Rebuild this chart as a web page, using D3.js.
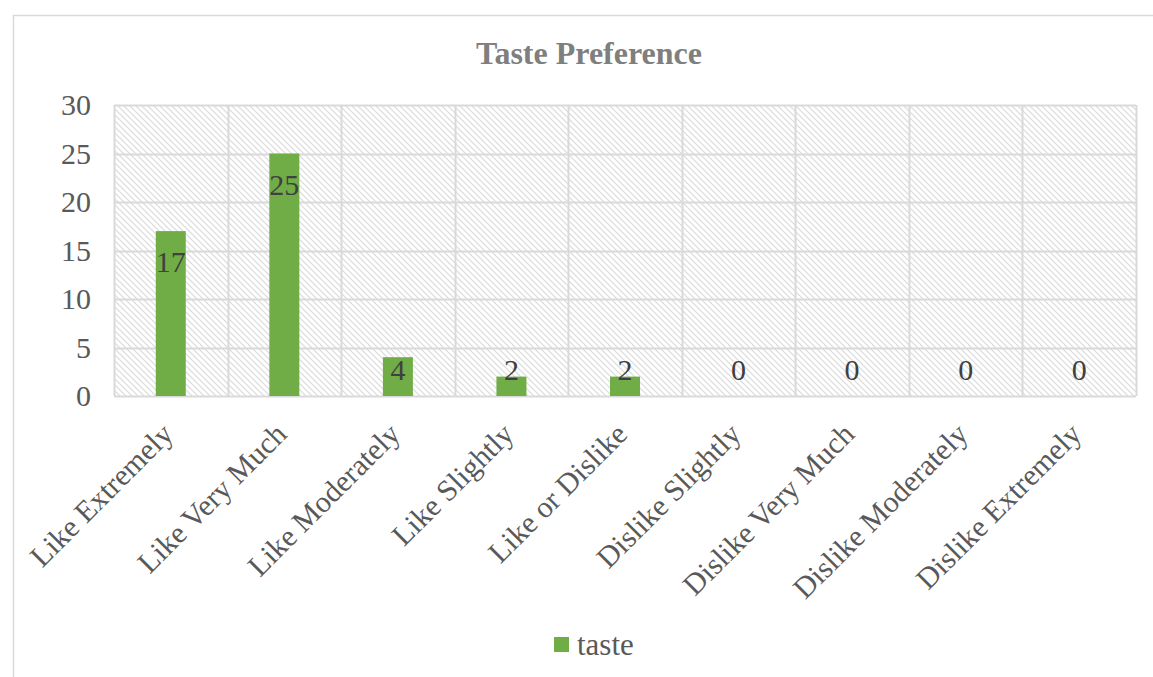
<!DOCTYPE html>
<html>
<head>
<meta charset="utf-8">
<script src="https://cdn.jsdelivr.net/npm/d3@7"></script>
<style>
  body { margin: 0; background: #fff; }
  svg text { font-family: "Liberation Serif", "Times New Roman", serif; }
</style>
</head>
<body>
<div class="board"></div>
<script>
const CATEGORIES = ["Like Extremely", "Like Very Much", "Like Moderately", "Like Slightly",
    "Like or Dislike", "Dislike Slightly", "Dislike Very Much", "Dislike Moderately", "Dislike Extremely"]
const TASTE = [17, 25, 4, 2, 2, 0, 0, 0, 0]
const Y_TICKS = [0, 5, 10, 15, 20, 25, 30]
const SERIES_NAME = "taste"
const TITLE = "Taste Preference"

const W = 1153, H = 677
const plot = { left: 114, right: 1136, top: 105, bottom: 396 }
const GREEN = "#70AD47"

const svg = d3.select(".board")
    .append("svg")
    .attr("width", W)
    .attr("height", H)

// hatch pattern for the plot area
const defs = svg.append("defs")
const pat = defs.append("pattern")
    .attr("id", "hatch")
    .attr("patternUnits", "userSpaceOnUse")
    .attr("width", 6)
    .attr("height", 6)
pat.append("rect").attr("width", 6).attr("height", 6).attr("fill", "#fff")
pat.append("path")
    .attr("d", "M-1,-1 L7,7 M-1,5 L1,7 M5,-1 L7,1")
    .attr("stroke", "#dadada")
    .attr("stroke-width", 1.2)

// chart border (right and bottom run off the picture)
svg.append("path")
    .attr("d", `M13.5,${H} L13.5,15.5 L${W},15.5`)
    .attr("fill", "none")
    .attr("stroke", "#d9d9d9")
    .attr("stroke-width", 1.5)

let x = d3.scaleBand()
    .domain(CATEGORIES)
    .range([plot.left, plot.right])
    .paddingInner(0)
    .paddingOuter(0)

let y = d3.scaleLinear()
    .domain([0, 30])
    .range([plot.bottom, plot.top])

svg.append("rect")
    .attr("x", plot.left)
    .attr("y", plot.top)
    .attr("width", plot.right - plot.left)
    .attr("height", plot.bottom - plot.top)
    .attr("fill", "url(#hatch)")

// horizontal gridlines
svg.selectAll(".hgrid")
    .data(Y_TICKS)
    .enter()
    .append("line")
    .attr("x1", plot.left)
    .attr("x2", plot.right)
    .attr("y1", d => Math.round(y(d)) + 0.5)
    .attr("y2", d => Math.round(y(d)) + 0.5)
    .attr("stroke", "#d9d9d9")
    .attr("stroke-width", 2)

// vertical gridlines at category boundaries
let bounds = CATEGORIES.map(c => x(c)).concat([plot.right])
svg.selectAll(".vgrid")
    .data(bounds)
    .enter()
    .append("line")
    .attr("x1", d => Math.round(d) + 0.5)
    .attr("x2", d => Math.round(d) + 0.5)
    .attr("y1", plot.top)
    .attr("y2", plot.bottom)
    .attr("stroke", "#d9d9d9")
    .attr("stroke-width", 2)

// bars
const BAR_W = 30
svg.selectAll(".bar")
    .data(TASTE)
    .enter()
    .append("rect")
    .attr("x", (d, i) => x(CATEGORIES[i]) + x.bandwidth() / 2 - BAR_W / 2)
    .attr("y", d => y(d))
    .attr("width", BAR_W)
    .attr("height", d => y(0) - y(d))
    .attr("fill", GREEN)

// data labels, inside end, kept above the axis
svg.selectAll(".dlabel")
    .data(TASTE)
    .enter()
    .append("text")
    .attr("x", (d, i) => x(CATEGORIES[i]) + x.bandwidth() / 2)
    .attr("y", d => Math.min(y(d) + 41, 380))
    .attr("text-anchor", "middle")
    .attr("font-size", 30)
    .attr("fill", "#404040")
    .text(d => d)

// y tick labels
svg.selectAll(".ytick")
    .data(Y_TICKS)
    .enter()
    .append("text")
    .attr("x", 91)
    .attr("y", d => y(d) + 10)
    .attr("text-anchor", "end")
    .attr("font-size", 30)
    .attr("fill", "#595959")
    .text(d => d)

// x labels, rotated
svg.selectAll(".xlabel")
    .data(CATEGORIES)
    .enter()
    .append("text")
    .attr("transform", d => `translate(${x(d) + x.bandwidth() / 2 + 4},${plot.bottom + 40}) rotate(-45)`)
    .attr("text-anchor", "end")
    .attr("font-size", 30)
    .attr("fill", "#595959")
    .text(d => d)

// title
svg.append("text")
    .attr("x", 589)
    .attr("y", 64)
    .attr("text-anchor", "middle")
    .attr("font-size", 32)
    .attr("font-weight", "bold")
    .attr("fill", "#7f7f7f")
    .text(TITLE)

// legend
svg.append("rect")
    .attr("x", 554)
    .attr("y", 637)
    .attr("width", 15)
    .attr("height", 15)
    .attr("fill", GREEN)
svg.append("text")
    .attr("x", 577)
    .attr("y", 655)
    .attr("font-size", 31)
    .attr("fill", "#595959")
    .text(SERIES_NAME)
</script>
</body>
</html>
